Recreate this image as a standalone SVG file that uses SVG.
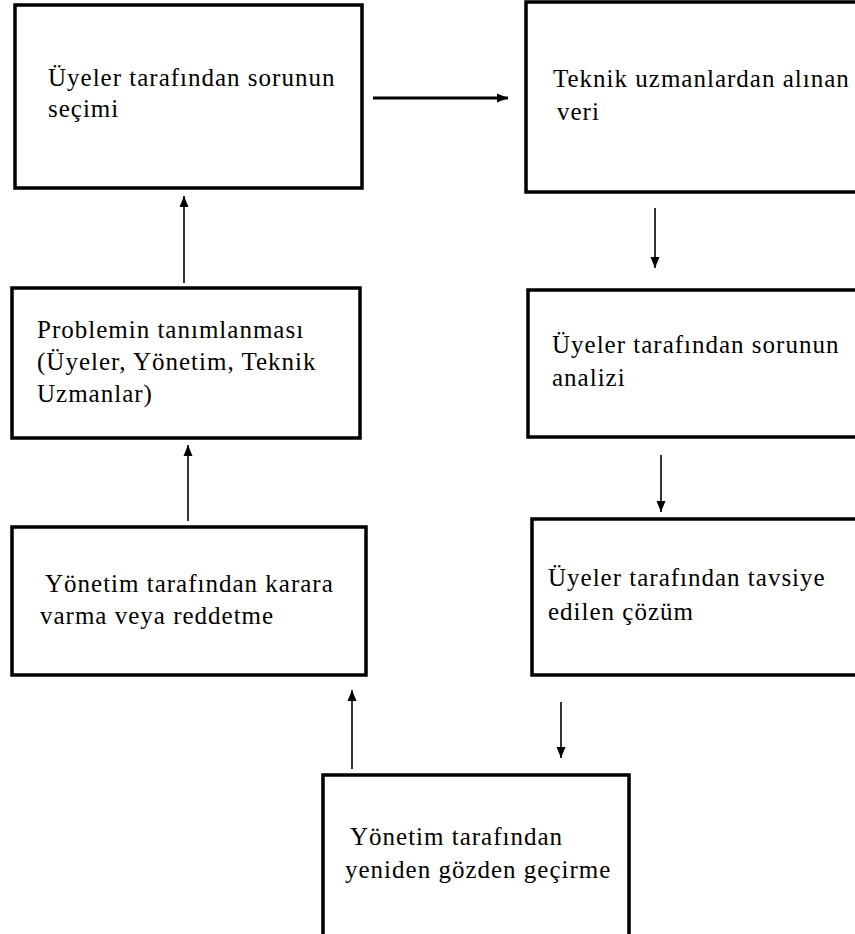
<svg xmlns="http://www.w3.org/2000/svg" width="855" height="934" viewBox="0 0 855 934">
<defs>
<marker id="ah" markerUnits="userSpaceOnUse" markerWidth="12" markerHeight="10" refX="11" refY="5" orient="auto">
<path d="M0,0.5 L11,5 L0,9.5 Z" fill="#000"/>
</marker>
</defs>
<style>
.box{fill:#fff;stroke:#000;stroke-width:3.5}
.t{font-family:"Liberation Serif","Times New Roman",serif;font-size:25px;letter-spacing:1px;fill:#000}
.c{stroke:#000;stroke-width:1.6;fill:none}
.thick{stroke-width:3}
</style>
<rect width="855" height="934" fill="#fff"/>
<g id="n1"><rect class="box" x="15" y="5" width="347" height="183"/>
<text class="t" x="48" y="86">Üyeler tarafından sorunun</text>
<text class="t" x="48" y="117">seçimi</text></g>
<g id="n2"><rect class="box" x="526" y="2" width="340" height="190"/>
<text class="t" x="553" y="87">Teknik uzmanlardan alınan</text>
<text class="t" x="557" y="120">veri</text></g>
<g id="n3"><rect class="box" x="12" y="288" width="348" height="150"/>
<text class="t" x="37" y="338">Problemin tanımlanması</text>
<text class="t" x="37" y="370">(Üyeler, Yönetim, Teknik</text>
<text class="t" x="37" y="402">Uzmanlar)</text></g>
<g id="n4"><rect class="box" x="528" y="290" width="340" height="147"/>
<text class="t" x="552" y="353">Üyeler tarafından sorunun</text>
<text class="t" x="552" y="386">analizi</text></g>
<g id="n5"><rect class="box" x="12" y="527" width="354" height="148"/>
<text class="t" x="45" y="592">Yönetim tarafından karara</text>
<text class="t" x="40" y="624">varma veya reddetme</text></g>
<g id="n6"><rect class="box" x="532" y="519" width="340" height="156"/>
<text class="t" x="548" y="586">Üyeler tarafından tavsiye</text>
<text class="t" x="548" y="620">edilen çözüm</text></g>
<g id="n7"><rect class="box" x="323" y="775" width="306" height="170"/>
<text class="t" x="350" y="845">Yönetim tarafından</text>
<text class="t" x="345" y="878">yeniden gözden geçirme</text></g>
<g id="connectors">
<line class="c thick" x1="373" y1="98" x2="508" y2="98" marker-end="url(#ah)"/>
<line class="c" x1="184" y1="283" x2="184" y2="196" marker-end="url(#ah)"/>
<line class="c" x1="188" y1="521" x2="188" y2="445" marker-end="url(#ah)"/>
<line class="c" x1="352" y1="769" x2="352" y2="690" marker-end="url(#ah)"/>
<line class="c" x1="655" y1="208" x2="655" y2="268" marker-end="url(#ah)"/>
<line class="c" x1="661" y1="455" x2="661" y2="512" marker-end="url(#ah)"/>
<line class="c" x1="561" y1="702" x2="561" y2="758" marker-end="url(#ah)"/>
</g>
</svg>
